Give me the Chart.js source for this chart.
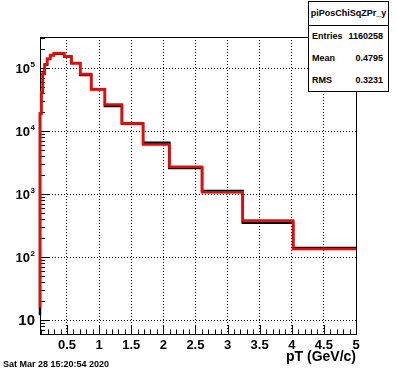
<!DOCTYPE html>
<html>
<head>
<meta charset="utf-8">
<script src="https://cdn.jsdelivr.net/npm/chart.js@4/dist/chart.umd.min.js"></script>
<style>
  body { margin: 0; background: #fff; }
  #wrap { position: relative; width: 396px; height: 372px; }
  #stats {
    position: absolute; left: 308px; top: 1px; width: 81px; height: 91px;
    box-sizing: border-box; background: #fff; border: 1px solid #000;
    font: bold 9px "Liberation Sans", Arial, Helvetica, sans-serif; color: #000;
  }
  #stats .title { position: absolute; left: 0; right: 0; top: 0; height: 23px; line-height: 23px; text-align: center; border-bottom: 1px solid #000; }
  #stats .row { position: absolute; left: 3px; right: 5px; height: 12px; line-height: 12px; }
  #stats .row span:last-child { position: absolute; right: 0; }
  #date { position: absolute; left: 3px; top: 359px; font: bold 9px "Liberation Sans", Arial, Helvetica, sans-serif; }
</style>
</head>
<body>
<div id="wrap">
  <canvas id="chart"></canvas>
  <div id="stats"></div>
  <div id="date"></div>
</div>
<script>
// histogram bins (pT, GeV/c)
const binEdges = [0.08, 0.0997, 0.124, 0.154, 0.191, 0.238, 0.296, 0.367, 0.457, 0.568,
                  0.706, 0.877, 1.09, 1.355, 1.685, 2.094, 2.603, 3.236, 4.022, 5];
const blackCounts = [19000, 41000, 82000, 114000, 141000, 161000, 171000, 171000, 154000, 120000,
                     78000, 46500, 25200, 13300, 6600, 2620, 1130, 354, 140];
const redCounts = [19300, 42000, 83000, 116000, 142000, 163000, 173000, 173000, 156000, 121000,
                   81000, 46500, 26700, 13300, 6200, 2740, 1075, 384, 135];
const blackStart = 12;
const redStart = 16;

const xTickLabels = ['0.5', '1', '1.5', '2', '2.5', '3', '3.5', '4', '4.5', '5'];
const yExponents = [1, 2, 3, 4, 5];

const statsTitle = 'piPosChiSqZPr_y';
const statsRows = [['Entries', '1160258'], ['Mean', '0.4795'], ['RMS', '0.3231']];
const dateText = 'Sat Mar 28 15:20:54 2020';

const FONT = '"Liberation Sans", Arial, Helvetica, sans-serif';

// stats box + date
const stats = document.getElementById('stats');
let html = `<div class="title">${statsTitle}</div>`;
statsRows.forEach((r, i) => {
    html += `<div class="row" style="top:${28 + i * 22}px"><span>${r[0]}</span><span>${r[1]}</span></div>`;
});
stats.innerHTML = html;
document.getElementById('date').textContent = dateText;

// turn bin contents into a step outline
function outline(start, counts) {
    const pts = [{ x: binEdges[0], y: start }];
    counts.forEach((c, i) => {
        pts.push({ x: binEdges[i], y: c });
        pts.push({ x: binEdges[i + 1], y: c });
    });
    return pts;
}

const rootFrame = {
    id: 'rootFrame',
    beforeDatasetsDraw(chart) {
        const { ctx, chartArea: a, scales: { x, y } } = chart;
        ctx.save();
        ctx.strokeStyle = '#000';
        ctx.lineWidth = 1;
        ctx.strokeRect(a.left + 0.5, a.top + 0.5, a.right - a.left, a.bottom - a.top);

        ctx.beginPath();
        // x ticks every 0.1, major every 0.5
        for (let i = 1; i <= 50; i++) {
            const v = i / 10;
            if (v <= x.min || v > x.max) continue;
            const px = Math.round(x.getPixelForValue(v)) + 0.5;
            const len = i % 5 === 0 ? 9 : 4.5;
            ctx.moveTo(px, a.bottom);
            ctx.lineTo(px, a.bottom - len);
        }
        // y ticks 1..9 per decade
        for (let e = 0; e <= 5; e++) {
            for (let k = 1; k <= 9; k++) {
                const v = k * Math.pow(10, e);
                if (v < y.min || v > y.max) continue;
                const py = Math.round(y.getPixelForValue(v)) + 0.5;
                const len = k === 1 ? 9 : 5;
                ctx.moveTo(a.left, py);
                ctx.lineTo(a.left + len, py);
            }
        }
        ctx.stroke();

        // y labels 10, 10^2 ...
        ctx.fillStyle = '#000';
        ctx.textBaseline = 'middle';
        yExponents.forEach(e => {
            const py = y.getPixelForValue(Math.pow(10, e));
            if (e === 1) {
                ctx.font = `bold 15px ${FONT}`;
                ctx.textAlign = 'right';
                ctx.fillText('10', 35, py + 1);
            } else {
                ctx.font = `bold 13px ${FONT}`;
                ctx.textAlign = 'right';
                ctx.fillText('10', 30, py + 1.5);
                ctx.font = `bold 8px ${FONT}`;
                ctx.textAlign = 'left';
                ctx.fillText(String(e), 30.5, py - 4);
            }
        });
        ctx.restore();
    }
};

const isDecade = v => Math.abs(Math.log10(v) - Math.round(Math.log10(v))) < 1e-6;

new Chart(document.getElementById('chart'), {
    type: 'line',
    data: {
        datasets: [
            {
                label: 'red',
                data: outline(redStart, redCounts),
                borderColor: '#ff0000',
                borderWidth: 2.5,
                pointRadius: 0,
                tension: 0,
                fill: false,
                clip: 4
            },
            {
                label: 'black',
                data: outline(blackStart, blackCounts),
                borderColor: '#000000',
                borderWidth: 2.5,
                pointRadius: 0,
                tension: 0,
                fill: false,
                clip: 4
            }
        ]
    },
    options: {
        responsive: true,
        maintainAspectRatio: false,
        animation: false,
        devicePixelRatio: 1,
        layout: { padding: { left: 0, top: 37, right: 40, bottom: 0 } },
        plugins: {
            legend: { display: false },
            tooltip: { enabled: false }
        },
        scales: {
            x: {
                type: 'linear',
                min: 0.08,
                max: 5,
                afterFit(scale) { scale.height = 38; },
                ticks: {
                    stepSize: 0.5,
                    includeBounds: false,
                    autoSkip: false,
                    maxRotation: 0,
                    padding: 4,
                    color: '#000',
                    font: { family: FONT, size: 13, weight: 'bold' },
                    callback: (v) => {
                        const s = String(Math.round(v * 10) / 10);
                        return xTickLabels.includes(s) ? s : '';
                    }
                },
                grid: { color: '#000', lineWidth: 1, drawTicks: false },
                border: { display: false, dash: [1, 2] },
                title: {
                    display: true,
                    text: 'pT (GeV/c)',
                    align: 'end',
                    color: '#000',
                    font: { family: FONT, size: 14, weight: 'bold' },
                    padding: { top: 0, bottom: 6 }
                }
            },
            y: {
                type: 'logarithmic',
                min: 6.06,
                max: 314000,
                afterFit(scale) { scale.width = 40; },
                ticks: { display: false },
                grid: {
                    color: (c) => (c.tick && isDecade(c.tick.value) ? '#000' : 'rgba(0,0,0,0)'),
                    lineWidth: 1,
                    drawTicks: false
                },
                border: { display: false, dash: [1, 2] }
            }
        }
    },
    plugins: [rootFrame]
});
</script>
</body>
</html>
